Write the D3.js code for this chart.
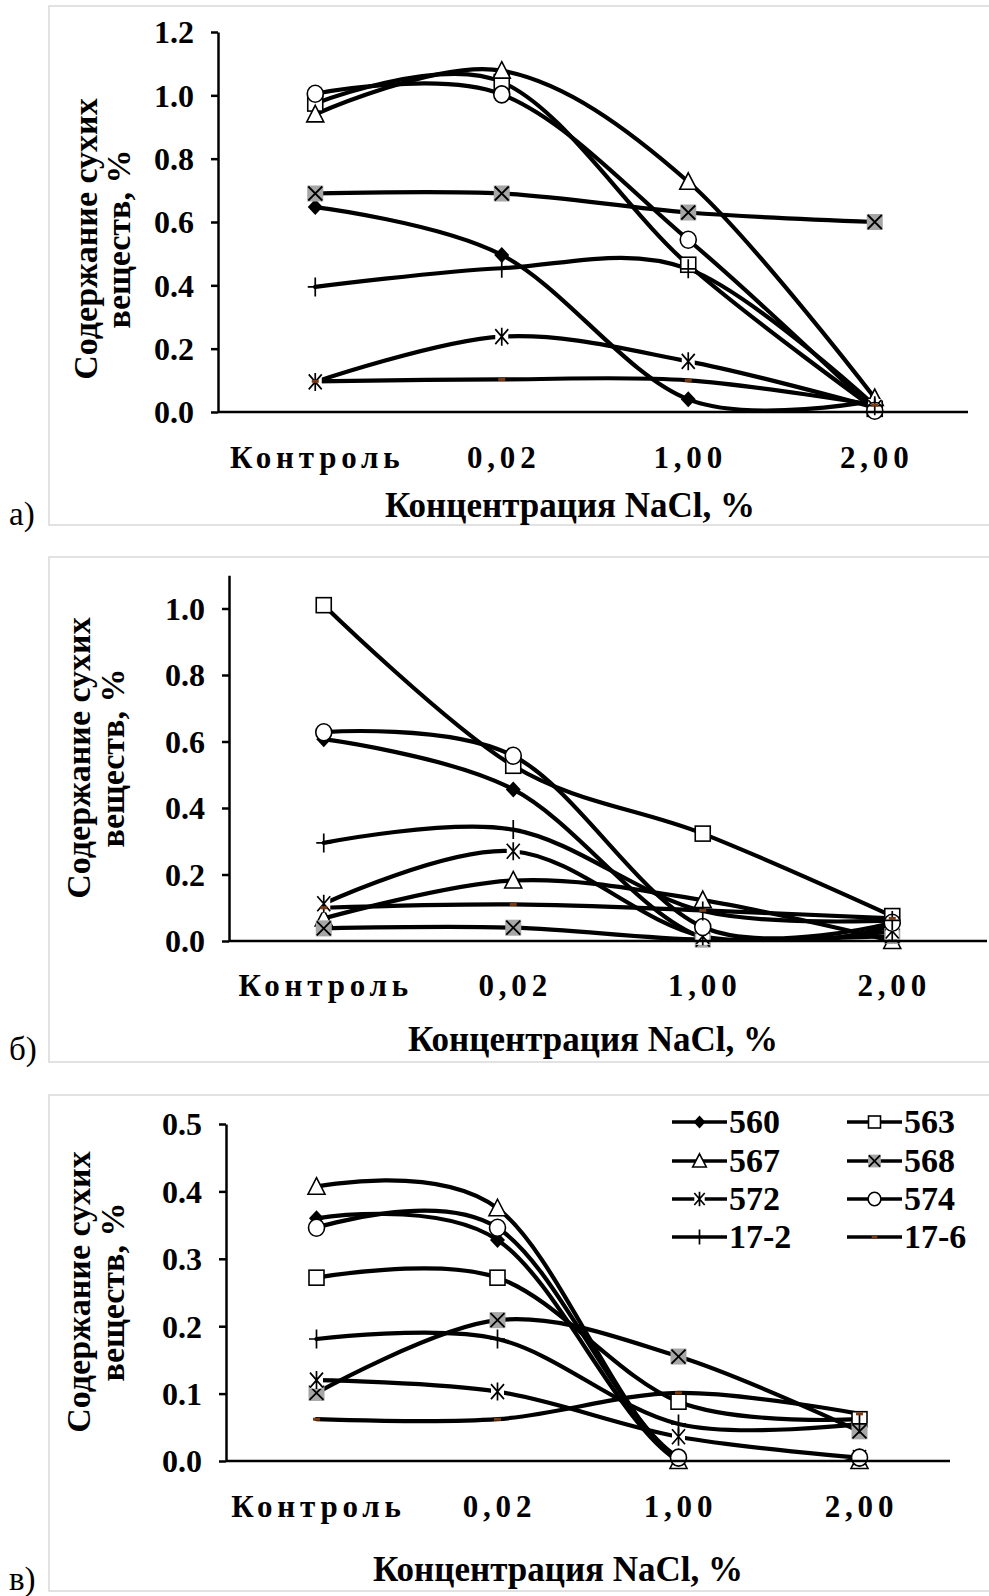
<!DOCTYPE html>
<html><head><meta charset="utf-8">
<script src="https://cdn.jsdelivr.net/npm/d3@7"></script>
<style>
html,body{margin:0;padding:0;background:#fff;}
svg text{font-family:"Liberation Serif","Times New Roman",serif;}
</style></head>
<body>
<svg id="c" width="989" height="1596"></svg>
<script>
// ---------- data ----------
const categories = ["Контроль", "0,02", "1,00", "2,00"];
const seriesNames = ["560", "563", "567", "568", "572", "574", "17-2", "17-6"];
const seriesMarkers = ["diamond", "square", "triangle", "xsquare", "asterisk", "circle", "plus", "dash"];

// panel а)
const valuesA = [
  [0.647, 0.496, 0.040, 0.036],   // 560
  [0.974, 1.042, 0.465, 0.010],   // 563
  [0.940, 1.078, 0.727, 0.044],   // 567
  [0.690, 0.690, 0.630, 0.600],   // 568
  [0.095, 0.238, 0.160, 0.014],   // 572
  [1.005, 1.003, 0.544, 0.004],   // 574
  [0.395, 0.454, 0.452, 0.020],   // 17-2
  [0.097, 0.103, 0.100, 0.022]    // 17-6
];
// panel б)
const valuesB = [
  [0.607, 0.456, 0.010, 0.045],   // 560
  [1.010, 0.527, 0.323, 0.075],   // 563
  [0.068, 0.182, 0.123, 0.000],   // 567
  [0.038, 0.040, 0.004, 0.015],   // 568
  [0.112, 0.270, 0.014, 0.030],   // 572
  [0.628, 0.557, 0.042, 0.055],   // 574
  [0.295, 0.335, 0.090, 0.062],   // 17-2
  [0.100, 0.110, 0.092, 0.068]    // 17-6
];
// panel в)
const valuesC = [
  [0.360, 0.328, 0.000, 0.000],   // 560
  [0.272, 0.272, 0.088, 0.062],   // 563
  [0.407, 0.375, 0.000, 0.000],   // 567
  [0.101, 0.209, 0.155, 0.044],   // 568
  [0.120, 0.103, 0.036, 0.005],   // 572
  [0.346, 0.346, 0.005, 0.005],   // 574
  [0.181, 0.181, 0.055, 0.055],   // 17-2
  [0.062, 0.062, 0.101, 0.070]    // 17-6
];
const ticksA = [0, 0.2, 0.4, 0.6, 0.8, 1.0, 1.2];
const ticksB = [0, 0.2, 0.4, 0.6, 0.8, 1.0];
const ticksC = [0, 0.1, 0.2, 0.3, 0.4, 0.5];
const yTitle = ["Содержание сухих", "веществ, %"];
const xTitle = "Концентрация NaCl, %";
const panelLabels = ["а)", "б)", "в)"];

// ---------- layout ----------
const svg = d3.select("#c");
const FONT_TICK = 32, FONT_TITLE = 34;

const panels = [
  {values: valuesA, ticks: ticksA, ymax: 1.2, label: panelLabels[0],
   frame: [49, 6, 1000, 525], axisX: 218, bx0: 222, bx1: 968, yb: 412, yt: 32,
   xTickY: 468, xTitleY: 517, xTitleX: 570, yTitleX: [97, 130], yTitleY: 239, labelY: 525, ms: 1},
  {values: valuesB, ticks: ticksB, ymax: 1.1, label: panelLabels[1],
   frame: [49, 557, 1000, 1062], axisX: 229, bx0: 229, bx1: 987, yb: 941, yt: 575.25,
   xTickY: 996, xTitleY: 1051, xTitleX: 593, yTitleX: [90, 124], yTitleY: 758, labelY: 1060, ms: 1},
  {values: valuesC, ticks: ticksC, ymax: 0.5, label: panelLabels[2],
   frame: [49, 1095, 1000, 1591], axisX: 226, bx0: 226, bx1: 950, yb: 1461, yt: 1124,
   xTickY: 1517, xTitleY: 1581, xTitleX: 558, yTitleX: [90, 124], yTitleY: 1292, labelY: 1590, ms: 1, legend: true}
];

function drawMarker(g, type, s) {
  s = s || 1;
  const k = g.append("g");
  if (type === "diamond") {
    k.append("path").attr("d", `M0,${-8*s}L${7.5*s},0L0,${8*s}L${-7.5*s},0Z`).attr("fill", "#000");
  } else if (type === "square") {
    k.append("rect").attr("x", -7.5*s).attr("y", -7.5*s).attr("width", 15*s).attr("height", 15*s)
      .attr("fill", "#fff").attr("stroke", "#000").attr("stroke-width", 1.6);
  } else if (type === "triangle") {
    k.append("path").attr("d", `M0,${-9*s}L${8.5*s},${7.5*s}L${-8.5*s},${7.5*s}Z`)
      .attr("fill", "#fff").attr("stroke", "#000").attr("stroke-width", 1.6);
  } else if (type === "xsquare") {
    k.append("rect").attr("x", -8*s).attr("y", -8*s).attr("width", 16*s).attr("height", 16*s)
      .attr("fill", "#a6a6a6");
    k.append("path").attr("d", `M${-7*s},${-7*s}L${7*s},${7*s}M${7*s},${-7*s}L${-7*s},${7*s}`)
      .attr("stroke", "#000").attr("stroke-width", 1.8);
  } else if (type === "asterisk") {
    k.append("rect").attr("x", -6.5*s).attr("y", -8.5*s).attr("width", 13*s).attr("height", 17*s).attr("fill", "#fff");
    k.append("path").attr("d", `M${-6.5*s},${-7.5*s}L${6.5*s},${7.5*s}M${6.5*s},${-7.5*s}L${-6.5*s},${7.5*s}M0,${-9*s}L0,${9*s}`)
      .attr("stroke", "#000").attr("stroke-width", 1.7);
  } else if (type === "circle") {
    k.append("ellipse").attr("rx", 8*s).attr("ry", 8.5*s)
      .attr("fill", "#fff").attr("stroke", "#000").attr("stroke-width", 1.6);
  } else if (type === "plus") {
    k.append("path").attr("d", `M0,${-9.5*s}L0,${9.5*s}M${-7.5*s},0L${7.5*s},0`)
      .attr("stroke", "#000").attr("stroke-width", 1.7);
  } else if (type === "dash") {
    k.append("rect").attr("x", -3.5*s).attr("y", -1.5*s).attr("width", 7*s).attr("height", 3*s)
      .attr("fill", "#7a3a12");
  }
  return k;
}

panels.forEach((p, pi) => {
  const g = svg.append("g");
  // frame
  g.append("rect").attr("x", p.frame[0]).attr("y", p.frame[1])
    .attr("width", p.frame[2] - p.frame[0]).attr("height", p.frame[3] - p.frame[1])
    .attr("fill", "none").attr("stroke", "#d9d9d9").attr("stroke-width", 1.5);

  const x = d3.scaleBand().domain(categories).range([p.bx0, p.bx1]);
  const y = d3.scaleLinear().domain([0, p.ymax]).range([p.yb, p.yt]);
  const cx = c => x(c) + x.bandwidth() / 2;

  // clip
  const cid = "clip" + pi;
  svg.append("clipPath").attr("id", cid).append("rect")
    .attr("x", p.axisX).attr("y", p.yt).attr("width", p.bx1 - p.axisX + 20).attr("height", p.yb - p.yt);

  // y axis
  const ya = g.append("g").attr("transform", `translate(${p.axisX},0)`)
    .call(d3.axisLeft(y).tickValues(p.ticks).tickSize(7).tickSizeOuter(0).tickPadding(17).tickFormat(d3.format(".1f")));
  ya.select(".domain").attr("stroke", "#000").attr("stroke-width", 2.5);
  ya.selectAll(".tick line").attr("stroke", "#000").attr("stroke-width", 2.5);
  ya.selectAll(".tick text").attr("font-size", FONT_TICK).attr("font-weight", "bold")
    .attr("font-family", "Liberation Serif").attr("fill", "#000").attr("dy", "0.34em");

  // lines
  const line = d3.line().x((d, i) => cx(categories[i])).y(d => y(d)).curve(d3.curveCatmullRom.alpha(0));
  const lg = g.append("g").attr("clip-path", `url(#${cid})`);
  p.values.forEach((vals, si) => {
    lg.append("path").attr("d", line(vals)).attr("fill", "none").attr("stroke", "#000")
      .attr("stroke-width", 4.2).attr("stroke-linejoin", "round").attr("stroke-linecap", "round");
  });
  // markers
  p.values.forEach((vals, si) => {
    vals.forEach((v, i) => {
      drawMarker(g, seriesMarkers[si], p.ms).attr("transform", `translate(${cx(categories[i])},${y(v)})`);
    });
  });

  // x axis
  g.append("line").attr("x1", p.axisX).attr("x2", p.bx1).attr("y1", p.yb).attr("y2", p.yb)
    .attr("stroke", "#000").attr("stroke-width", 2.5);
  categories.forEach(c => {
    g.append("text").attr("x", cx(c) + 2).attr("y", p.xTickY).attr("text-anchor", "middle")
      .attr("font-size", FONT_TICK - 1).attr("font-weight", "bold").attr("letter-spacing", "4.8px").text(c);
  });
  // titles
  g.append("text").attr("x", p.xTitleX).attr("y", p.xTitleY).attr("text-anchor", "middle")
    .attr("font-size", FONT_TITLE + 1).attr("font-weight", "bold").text(xTitle);
  yTitle.forEach((t, li) => {
    g.append("text").attr("transform", `translate(${p.yTitleX[li]},${p.yTitleY}) rotate(-90)`)
      .attr("text-anchor", "middle").attr("font-size", FONT_TITLE).attr("font-weight", "bold").text(t);
  });
  // panel label
  g.append("text").attr("x", 9).attr("y", p.labelY).attr("font-size", 33).text(p.label);

  // legend
  if (p.legend) {
    const colX = [672, 847], rowY = [1122, 1161, 1199, 1237];
    seriesNames.forEach((n, i) => {
      const lx = colX[i % 2], ly = rowY[Math.floor(i / 2)];
      g.append("line").attr("x1", lx).attr("x2", lx + 55).attr("y1", ly).attr("y2", ly)
        .attr("stroke", "#000").attr("stroke-width", 3.5);
      drawMarker(g, seriesMarkers[i], 0.8).attr("transform", `translate(${lx + 27.5},${ly})`);
      g.append("text").attr("x", lx + 57).attr("y", ly + 11).attr("font-size", 34)
        .attr("font-weight", "bold").text(n);
    });
  }
});
</script>
</body></html>
